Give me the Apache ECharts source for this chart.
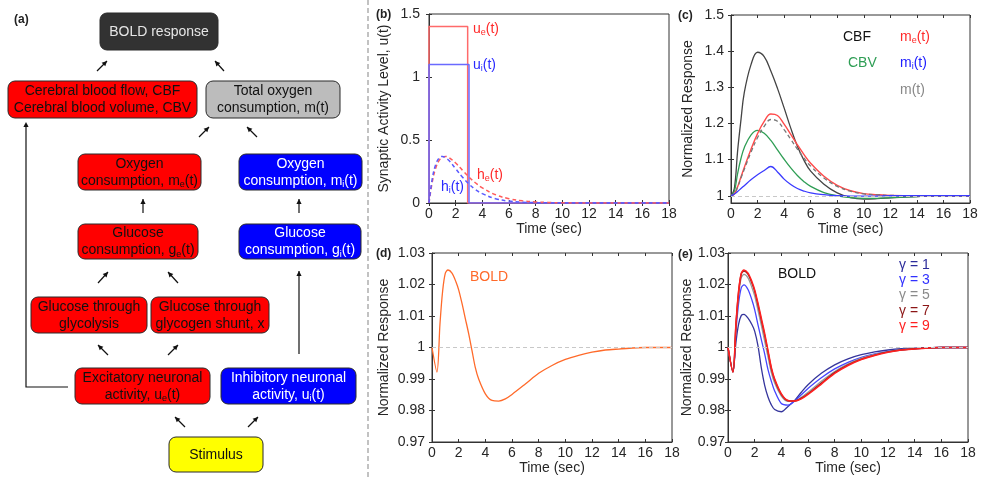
<!DOCTYPE html>
<html><head><meta charset="utf-8">
<script src="https://cdn.jsdelivr.net/npm/echarts@6/dist/echarts.min.js"></script>
<style>html,body{margin:0;padding:0;background:#fff}#c{width:990px;height:480px}</style>
</head><body><div id="c"></div>
<script>
const FONT = '"Liberation Sans", Arial, Helvetica, sans-serif';

// ---------- Panel (b): synaptic activity ----------
const bUeT = [0, 0, 2.9, 2.9, 18];
const bUe  = [0, 1.4, 1.4, 0, 0];
const bUiT = [0, 0, 3, 3, 18];
const bUi  = [0, 1.1, 1.1, 0, 0];
const bHT  = [0, 0.25, 0.5, 0.75, 1, 1.25, 1.5, 2, 2.5, 3, 3.5, 4, 5, 6, 7, 8, 9, 10, 12, 18];
const bHe  = [0, 0.170, 0.276, 0.336, 0.364, 0.370, 0.360, 0.317, 0.261, 0.206, 0.159, 0.120, 0.065, 0.034, 0.017, 0.0085, 0.004, 0.002, 0, 0];
const bHi  = [0, 0.196, 0.305, 0.356, 0.370, 0.360, 0.337, 0.272, 0.206, 0.150, 0.106, 0.074, 0.034, 0.015, 0.0064, 0.0027, 0.001, 0.0005, 0, 0];

// ---------- Panel (c): CBF, CBV, oxygen consumption ----------
const cT   = [0, 0.25, 0.5, 0.75, 1, 1.5, 2, 2.5, 3, 3.5, 4, 4.5, 5, 5.5, 6, 7, 8, 9, 10, 11, 12, 14, 16, 18];
const cCBF = [1, 1.02, 1.125, 1.21, 1.285, 1.362, 1.397, 1.385, 1.345, 1.297, 1.243, 1.187, 1.137, 1.098, 1.068, 1.032, 1.008, 0.995, 0.991, 0.992, 0.994, 0.998, 1, 1];
const cCBV = [1, 1.012, 1.062, 1.103, 1.133, 1.168, 1.181, 1.173, 1.153, 1.127, 1.101, 1.077, 1.056, 1.039, 1.026, 1.009, 1.0, 0.995, 0.993, 0.993, 0.995, 0.998, 1, 1];
const cMe  = [1, 1.005, 1.025, 1.052, 1.078, 1.128, 1.172, 1.206, 1.226, 1.222, 1.198, 1.17, 1.141, 1.114, 1.09, 1.054, 1.029, 1.014, 1.006, 1.003, 1.001, 1, 1, 1];
const cMi  = [1, 1.005, 1.012, 1.02, 1.028, 1.044, 1.058, 1.07, 1.081, 1.066, 1.046, 1.031, 1.02, 1.013, 1.008, 1.003, 1.0, 0.999, 0.999, 0.999, 1, 1, 1, 1];
const cM   = [1, 1.005, 1.024, 1.049, 1.073, 1.12, 1.161, 1.192, 1.211, 1.206, 1.183, 1.156, 1.129, 1.104, 1.082, 1.049, 1.026, 1.0125, 1.005, 1.0027, 1.001, 1, 1, 1];
const cTicks = [1, 1.1, 1.2, 1.3, 1.4, 1.5];

// ---------- Panels (d), (e): BOLD ----------
const dT  = [0, 0.37, 0.6, 0.8, 1, 1.2, 1.5, 1.8, 2, 2.25, 2.5, 2.75, 3, 3.25, 3.5, 4, 4.5, 5, 5.5, 6, 7, 8, 9, 10, 11, 12, 13, 14, 16, 18];
const g9  = [1, 0.9922, 1.0076, 1.0180, 1.0236, 1.0246, 1.0236, 1.0208, 1.0183, 1.0140, 1.0092, 1.0044, 0.9990, 0.9936, 0.9900, 0.9853, 0.9832, 0.9830, 0.9837, 0.9851, 0.9884, 0.9918, 0.9943, 0.9962, 0.9975, 0.9985, 0.9992, 0.9995, 1, 1];
const g7  = [1, 0.9922, 1.0075, 1.0178, 1.0234, 1.0243, 1.0233, 1.0204, 1.0179, 1.0135, 1.0087, 1.0039, 0.9986, 0.9933, 0.9897, 0.9851, 0.9831, 0.9830, 0.9839, 0.9853, 0.9887, 0.9920, 0.9945, 0.9963, 0.9976, 0.9986, 0.9992, 0.9996, 1, 1];
const g5  = [1, 0.9922, 1.0070, 1.0168, 1.0222, 1.0232, 1.0221, 1.0190, 1.0164, 1.0118, 1.0070, 1.0020, 0.9970, 0.9920, 0.9887, 0.9846, 0.9829, 0.9830, 0.9842, 0.9858, 0.9893, 0.9924, 0.9948, 0.9966, 0.9978, 0.9987, 0.9993, 0.9996, 1, 1];
const g3  = [1, 0.9923, 1.0052, 1.0142, 1.0190, 1.0199, 1.0184, 1.0150, 1.0120, 1.0072, 1.0025, 0.9980, 0.9930, 0.9893, 0.9862, 0.9822, 0.9817, 0.9830, 0.9850, 0.9870, 0.9904, 0.9932, 0.9953, 0.9969, 0.9980, 0.9988, 0.9993, 0.9996, 1, 1];
const g1  = [1, 0.9924, 1.0018, 1.0075, 1.0102, 1.0105, 1.0093, 1.0072, 1.0052, 1.0005, 0.9935, 0.9880, 0.9843, 0.9818, 0.9803, 0.9796, 0.9813, 0.9832, 0.9858, 0.9882, 0.9918, 0.9945, 0.9964, 0.9977, 0.9986, 0.9992, 0.9996, 0.9998, 1, 1];
const dBold = g9;
const gammaLabels = ['γ = 1', 'γ = 3', 'γ = 5', 'γ = 7', 'γ = 9'];

const zip = (xs, ys) => xs.map((x, i) => [x, ys[i]]);

const grids = [
  {left: 429, top: 14, width: 240, height: 189},
  {left: 731, top: 15, width: 239, height: 188},
  {left: 432, top: 253, width: 240, height: 189},
  {left: 728, top: 253, width: 240, height: 189}
];
const AX = '#333';
const LBL = '#262626';

function xAxes(g) {
  const base = {type: 'value', gridIndex: g, min: 0, max: 18, interval: 2, splitLine: {show: false},
    axisTick: {inside: true, length: 3, lineStyle: {color: AX}}};
  return [
    Object.assign({}, base, {position: 'bottom', axisLine: {show: true, lineStyle: {color: AX}},
      axisLabel: {fontSize: 14, color: LBL, margin: 4, fontFamily: FONT},
      name: 'Time (sec)', nameLocation: 'middle', nameGap: 19,
      nameTextStyle: {fontSize: 14, color: LBL, fontFamily: FONT}}),
    Object.assign({}, base, {position: 'top', axisLine: {show: false}, axisLabel: {show: false}})
  ];
}
function yAxes(g, min, max, interval, name, gap, margin, custom) {
  const base = {type: 'value', gridIndex: g, min, max, splitLine: {show: false},
    axisTick: {inside: true, length: 3, lineStyle: {color: AX}}};
  if (interval) base.interval = interval;
  if (custom) base.axisTick.customValues = custom;
  const fmt = v => String(+(+v).toFixed(2));
  const lab = {fontSize: 14, color: LBL, margin, fontFamily: FONT, formatter: fmt};
  if (custom) lab.customValues = custom;
  return [
    Object.assign({}, base, {position: 'left', axisLine: {show: true, lineStyle: {color: AX}},
      axisLabel: lab, name, nameLocation: 'middle', nameGap: gap,
      nameTextStyle: {fontSize: 14, color: LBL, fontFamily: FONT}}),
    Object.assign({}, base, {position: 'right', axisLine: {show: false}, axisLabel: {show: false}})
  ];
}

const xAxis = [].concat(xAxes(0), xAxes(1), xAxes(2), xAxes(3));
const yAxis = [].concat(
  yAxes(0, 0, 1.5, 0.5, 'Synaptic Activity Level, u(t)', 38, 9),
  yAxes(1, 0.98, 1.5, null, 'Normalized Response', 36, 7, cTicks),
  yAxes(2, 0.97, 1.03, 0.01, 'Normalized Response', 41, 7),
  yAxes(3, 0.97, 1.03, 0.01, 'Normalized Response', 33, 3)
);

function line(g, xs, ys, color, width, opts) {
  return Object.assign({type: 'line', xAxisIndex: 2 * g, yAxisIndex: 2 * g, data: zip(xs, ys),
    showSymbol: false, symbol: 'none', silent: true, animation: false,
    lineStyle: {color, width}}, opts || {});
}
const refLine = {silent: true, symbol: 'none', label: {show: false},
  lineStyle: {color: '#c8c8c8', type: [4, 3], width: 1}, data: [{yAxis: 1}], animation: false};

const series = [
  line(0, bUeT, bUe, '#ff6a6a', 1.5),
  line(0, bUiT, bUi, '#6a6aff', 1.5),
  line(0, bHT, bHe, '#ff5a5a', 1.5, {smooth: 0.4, lineStyle: {color: '#ff5a5a', width: 1.5, type: [4, 3]}}),
  line(0, bHT, bHi, '#5a5aff', 1.5, {smooth: 0.4, lineStyle: {color: '#5a5aff', width: 1.5, type: [4, 3]}}),

  line(1, cT, cCBF, '#444444', 1.3, {smooth: 0.4, markLine: refLine}),
  line(1, cT, cCBV, '#2f9e55', 1.3, {smooth: 0.4}),
  line(1, cT, cMe, '#ff4a4a', 1.4, {smooth: 0.4}),
  line(1, cT, cM, '#777777', 1.3, {smooth: 0.4, lineStyle: {color: '#777777', width: 1.3, type: [4, 3]}}),
  line(1, cT, cMi, '#3a3aff', 1.3, {smooth: 0.4}),

  line(2, dT, dBold, '#ff6a2a', 1.3, {smooth: 0.3, markLine: refLine}),

  line(3, dT, g1, '#35359c', 1.3, {smooth: 0.3, markLine: refLine}),
  line(3, dT, g3, '#4545ff', 1.3, {smooth: 0.3}),
  line(3, dT, g5, '#9a9a9a', 1.3, {smooth: 0.3}),
  line(3, dT, g7, '#8b1a1a', 1.4, {smooth: 0.3}),
  line(3, dT, g9, '#ff2020', 1.6, {smooth: 0.3})
];

// ---------- graphics: flowchart + annotations ----------
const graphic = [];
const rich = (color) => ({
  a: {fontSize: 14, fontFamily: FONT, lineHeight: 17, fill: color},
  s: {fontSize: 9, fontFamily: FONT, fill: color, verticalAlign: 'bottom', padding: [4, 0, 0, 0]}
});
function box(x, y, w, h, fill, text, color) {
  graphic.push({type: 'rect', shape: {x, y, width: w, height: h, r: 7},
    style: {fill, stroke: '#2a2a2a', lineWidth: 1}, silent: true});
  graphic.push({type: 'text', x: x + w / 2, y: y + h / 2 + 0.5, silent: true,
    style: {text, align: 'center', verticalAlign: 'middle', fill: color, rich: rich(color),
      font: '14px ' + FONT}});
}
function head(x1, y1, x2, y2) {
  const a = Math.atan2(y2 - y1, x2 - x1), L = 5, W = 2.6;
  const bx = x2 - L * Math.cos(a), by = y2 - L * Math.sin(a);
  graphic.push({type: 'polygon', silent: true, shape: {points: [[x2, y2],
    [bx + W * Math.sin(a), by - W * Math.cos(a)], [bx - W * Math.sin(a), by + W * Math.cos(a)]]},
    style: {fill: '#111'}});
}
function arrow(x1, y1, x2, y2) {
  graphic.push({type: 'line', silent: true, shape: {x1, y1, x2, y2}, style: {stroke: '#111', lineWidth: 1.2}});
  head(x1, y1, x2, y2);
}

box(100, 13, 118, 37, '#323232', '{a|BOLD response}', '#e6e6e6');
box(8, 81, 189, 37, '#ff0000', '{a|Cerebral blood flow, CBF}\n{a|Cerebral blood volume, CBV}', '#111');
box(206, 81, 134, 37, '#bcbcbc', '{a|Total oxygen}\n{a|consumption, m(t)}', '#111');
box(78, 154, 123, 36, '#ff0000', '{a|Oxygen}\n{a|consumption, m}{s|e}{a|(t)}', '#111');
box(239, 154, 123, 36, '#0000ff', '{a|Oxygen}\n{a|consumption, m}{s|i}{a|(t)}', '#ffffff');
box(78, 224, 120, 35, '#ff0000', '{a|Glucose}\n{a|consumption, g}{s|e}{a|(t)}', '#111');
box(239, 224, 122, 35, '#0000ff', '{a|Glucose}\n{a|consumption, g}{s|i}{a|(t)}', '#ffffff');
box(31, 297, 116, 36, '#ff0000', '{a|Glucose through}\n{a|glycolysis}', '#111');
box(151, 297, 118, 36, '#ff0000', '{a|Glucose through}\n{a|glycogen shunt, x}', '#111');
box(75, 368, 135, 36, '#ff0000', '{a|Excitatory neuronal}\n{a|activity, u}{s|e}{a|(t)}', '#111');
box(221, 368, 135, 36, '#0000ff', '{a|Inhibitory neuronal}\n{a|activity, u}{s|i}{a|(t)}', '#ffffff');
box(169, 437, 94, 35, '#ffff00', '{a|Stimulus}', '#111');

arrow(97, 71, 107, 61);
arrow(224, 71, 215, 61);
arrow(199, 137, 209, 127);
arrow(257, 137, 247, 127);
arrow(143, 213, 143, 199);
arrow(299, 213, 299, 199);
arrow(98, 283, 108, 272);
arrow(178, 283, 168, 272);
arrow(108, 355, 98, 345);
arrow(168, 355, 178, 345);
arrow(299, 354, 299, 271);
arrow(185, 427, 175, 417);
arrow(248, 427, 258, 417);
graphic.push({type: 'polyline', silent: true, shape: {points: [[68, 387], [26, 387], [26, 124]]},
  style: {stroke: '#111', lineWidth: 1.2, fill: null}});
head(26, 140, 26, 122);

// separator
graphic.push({type: 'line', silent: true, shape: {x1: 368, y1: 0, x2: 368, y2: 480},
  style: {stroke: '#9a9a9a', lineWidth: 1.2, lineDash: [5, 3]}});

// panel letters
function t(x, y, text, color, extra) {
  graphic.push({type: 'text', x, y, silent: true, z: 10,
    style: Object.assign({text, fill: color, align: 'left', verticalAlign: 'middle',
      font: '14px ' + FONT, rich: rich(color)}, extra || {})});
}
const bold = {font: 'bold 12px ' + FONT};
t(14, 20, '(a)', '#222', bold);
t(376, 15, '(b)', '#222', bold);
t(678, 16, '(c)', '#222', bold);
t(376, 254, '(d)', '#222', bold);
t(678, 255, '(e)', '#222', bold);

// panel (b) labels
t(473, 29, '{a|u}{s|e}{a|(t)}', '#ff2a2a');
t(473, 65, '{a|u}{s|i}{a|(t)}', '#2a2aff');
t(477, 175, '{a|h}{s|e}{a|(t)}', '#ff2a2a');
t(441, 187, '{a|h}{s|i}{a|(t)}', '#2a2aff');
// panel (c) labels
t(843, 37, 'CBF', '#111');
t(848, 63, 'CBV', '#2f9e55');
t(900, 37, '{a|m}{s|e}{a|(t)}', '#ff2a2a');
t(900, 63, '{a|m}{s|i}{a|(t)}', '#2020ff');
t(900, 90, 'm(t)', '#888888');
// panel (d)
t(470, 277, 'BOLD', '#ff6a2a');
// panel (e)
t(778, 274, 'BOLD', '#111');
const gCols = ['#2b2b9a', '#3030ff', '#8a8a8a', '#8b1515', '#ff2020'];
gammaLabels.forEach((s, i) => t(899, 265 + i * 15.3, s, gCols[i]));

const chart = echarts.init(document.getElementById('c'), null, {renderer: 'canvas'});
chart.setOption({
  animation: false,
  backgroundColor: '#fff',
  textStyle: {fontFamily: FONT},
  grid: grids.map(g => Object.assign({show: true, borderColor: AX, borderWidth: 1, backgroundColor: 'transparent'}, g)),
  xAxis, yAxis, series, graphic
});
</script>
</body></html>
